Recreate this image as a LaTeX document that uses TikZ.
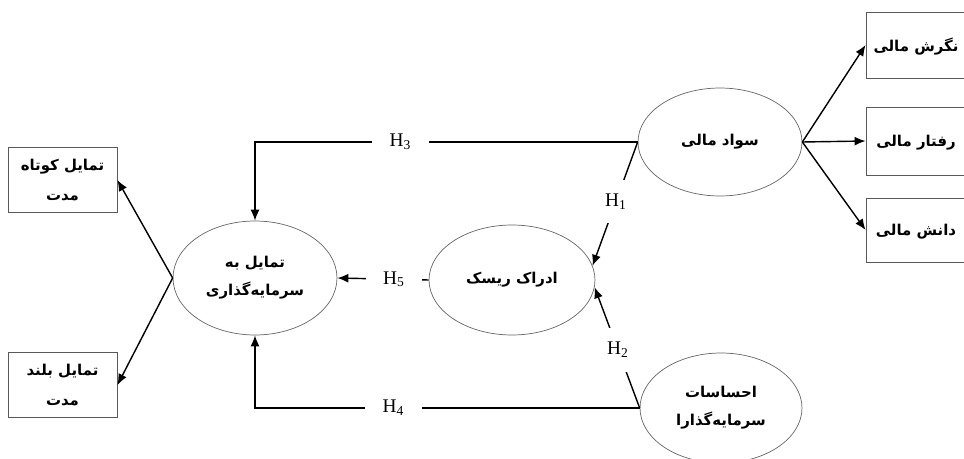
\documentclass[tikz,border=0pt]{standalone}
\usepackage{fontspec}
\setmainfont{Liberation Serif}
\newfontfamily\farsi[Script=Arabic]{DejaVu Sans}
\TeXXeTstate=1
\usetikzlibrary{positioning, calc, shapes.geometric, arrows.meta}
\newcommand{\rtl}[1]{\beginR#1\endR}
\tikzset{
	varbox/.style={rectangle, draw=black!65, line width=0.5pt, align=center, font={\farsi\bfseries\fontsize{8.5}{17}\selectfont}},
	construct/.style={ellipse, draw=black!60, line width=0.4pt, align=center, inner sep=0pt, font={\farsi\bfseries\fontsize{8.5}{16}\selectfont}},
	conn/.style={-{Latex[length=2.2mm, width=1.8mm]}, line width=0.8pt},
	hyp/.style={fill=white, inner xsep=10pt, inner ysep=8pt, font=\fontsize{11}{13}\selectfont}
}

\begin{document}
\begin{tikzpicture}[x=0.02cm, y=-0.02cm]
	\useasboundingbox (0, 0) rectangle (964, 459);

	\node[construct, minimum width=3.28cm, minimum height=2.28cm] (invest) at (255, 278) {\rtl{تمایل به}\\\rtl{سرمایه‌گذاری}};
	\node[construct, minimum width=3.32cm, minimum height=2.2cm] (risk) at (512, 280) {\rtl{ادراک ریسک}};
	\node[construct, minimum width=3.28cm, minimum height=2.16cm] (literacy) at (720, 142) {\rtl{سواد مالی}};
	\node[construct, minimum width=3.24cm, minimum height=2.2cm] (emotion) at (721, 408) {\rtl{احساسات}\\\rtl{سرمایه‌گذارا}};

	\node[varbox, minimum width=2.18cm, minimum height=1.3cm] (shortT) at (62.5, 180) {\rtl{تمایل کوتاه}\\\rtl{مدت}};
	\node[varbox, minimum width=2.18cm, minimum height=1.3cm] (longT) at (62.5, 385) {\rtl{تمایل بلند}\\\rtl{مدت}};

	\node[varbox, minimum width=2cm, minimum height=1.32cm, text depth=0pt] (attitude) at (916, 45) {\rtl{نگرش مالی}};
	\node[varbox, minimum width=2cm, minimum height=1.36cm, text depth=0pt] (behavior) at (916, 141) {\rtl{رفتار مالی}};
	\node[varbox, minimum width=2cm, minimum height=1.28cm, text depth=0pt] (knowledge) at (916, 230) {\rtl{دانش مالی}};

	\draw[conn] (invest.west) -- (shortT.east);
	\draw[conn] (invest.west) -- (longT.east);

	\draw[conn] (literacy.west) -| (invest.north) node[hyp, pos=0.31] (h3) {H\textsubscript{3}};
	\draw[conn] (emotion.west) -| (invest.south) node[hyp, pos=0.32] (h4) {H\textsubscript{4}};
	\draw[conn] (risk.west) -- (invest.east) node[hyp, pos=0.38] (h5) {H\textsubscript{5}};
	\draw[conn] (literacy.west) -- (risk.10) node[hyp, pos=0.48] (h1) {H\textsubscript{1}};
	\draw[conn] (emotion.west) -- (risk.-5) node[hyp, pos=0.48] (h2) {H\textsubscript{2}};

	\foreach \b in {attitude, behavior, knowledge}
		\draw[conn] (literacy.east) -- (\b.west);
\end{tikzpicture}
\end{document}
